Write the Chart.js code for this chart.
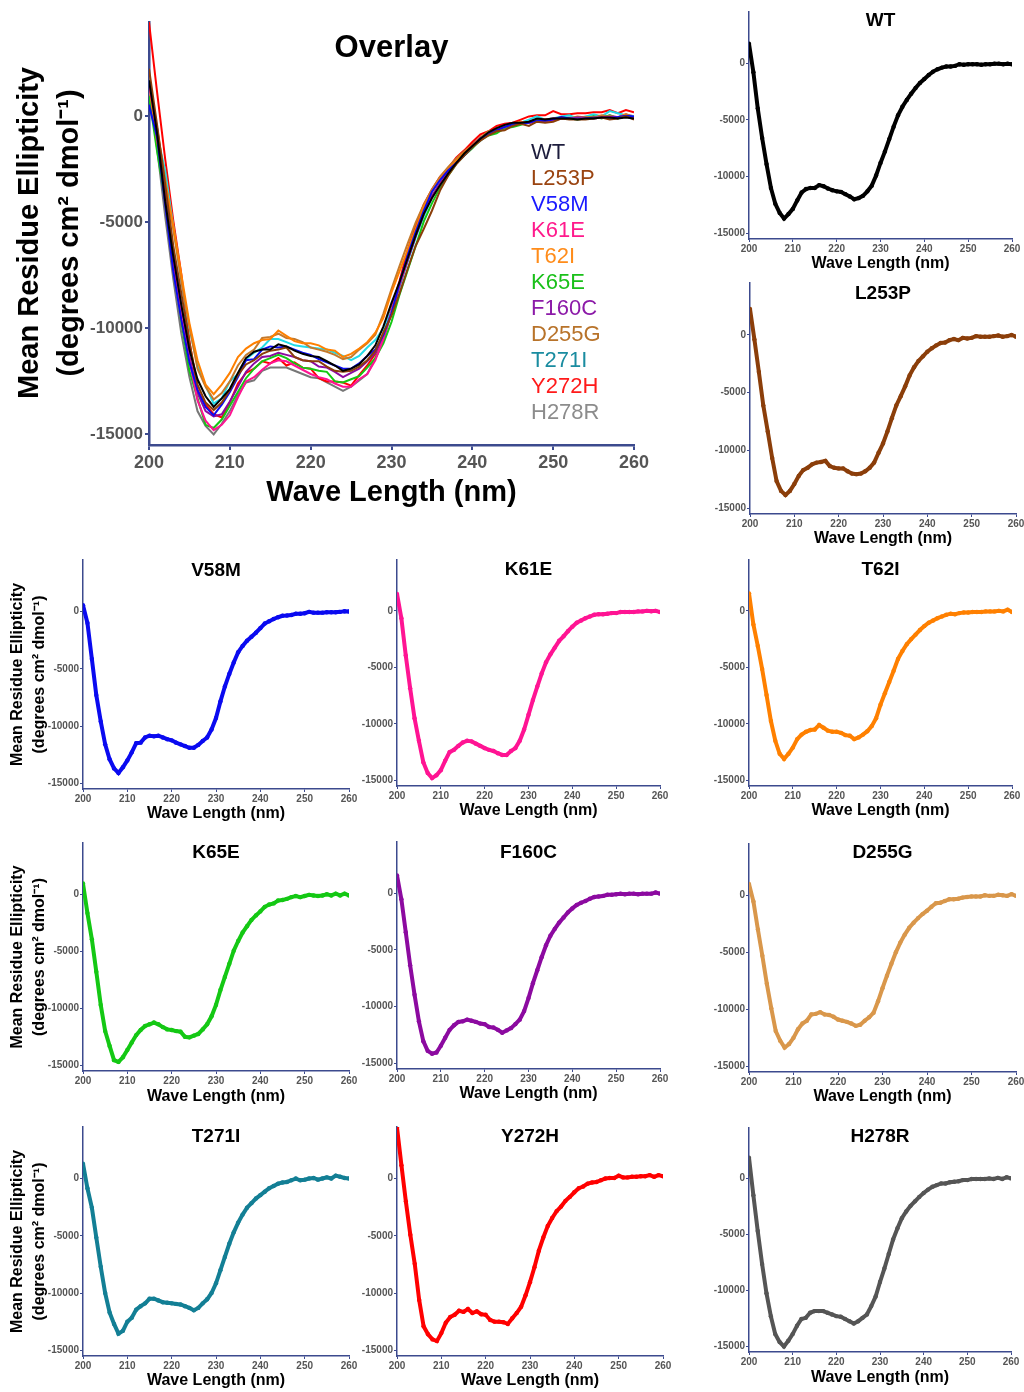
<!DOCTYPE html>
<html>
<head>
<meta charset="utf-8">
<title>CD spectra</title>
<script src="https://cdn.jsdelivr.net/npm/chart.js@4.4.0/dist/chart.umd.min.js"></script>
<style>
  html, body { margin: 0; padding: 0; background: #fff; width: 1024px; height: 1392px; overflow: hidden; }
  canvas { position: absolute; }
</style>
</head>
<body>
<script>
// --- data (mean residue ellipticity, deg cm2 dmol-1) ---
const wavelengths = [200, 201, 202, 203, 204, 205, 206, 207, 208, 209,
  210, 211, 212, 213, 214, 215, 216, 217, 218, 219,
  220, 221, 222, 223, 224, 225, 226, 227, 228, 229,
  230, 231, 232, 233, 234, 235, 236, 237, 238, 239,
  240, 241, 242, 243, 244, 245, 246, 247, 248, 249,
  250, 251, 252, 253, 254, 255, 256, 257, 258, 259, 260];

const xTicks = [200, 210, 220, 230, 240, 250, 260];
const yTicks = [0, -5000, -10000, -15000];

const seriesNames = ['WT', 'L253P', 'V58M', 'K61E', 'T62I', 'K65E', 'F160C', 'D255G', 'T271I', 'Y272H', 'H278R'];

const wt = [1700, -800, -4000, -6600, -8900, -11000, -12400, -13200, -13700, -13300,
  -12850, -12100, -11400, -11100, -11000, -11000, -10750, -10850, -11050, -11200,
  -11300, -11350, -11550, -11750, -12000, -11900, -11700, -11300, -10800, -9900,
  -8800, -7800, -6700, -5600, -4600, -3850, -3250, -2700, -2200, -1750,
  -1400, -1050, -750, -550, -400, -300, -300, -250, -100, -150,
  -100, -100, -100, -150, -100, -100, -50, -50, -100, -50, -100];

const l253p = [2250, -400, -3200, -6100, -8350, -10650, -12650, -13500, -13850, -13500,
  -12900, -12200, -11700, -11500, -11200, -11050, -11000, -10900, -11350, -11500,
  -11550, -11550, -11800, -12000, -12050, -12000, -11800, -11500, -11050, -10200,
  -9400, -8350, -7200, -6100, -5300, -4450, -3500, -2800, -2250, -1850,
  -1450, -1150, -900, -700, -650, -450, -350, -450, -250, -300,
  -250, -100, -150, -150, -150, -100, -50, -150, -100, 0, -150];

const v58m = [550, -1000, -4150, -7300, -9600, -11600, -12900, -13700, -14100, -13600,
  -13000, -12300, -11500, -11450, -11000, -10850, -10900, -10850, -11000, -11150,
  -11250, -11450, -11600, -11750, -11900, -11900, -11650, -11300, -11000, -10300,
  -9300, -7850, -6550, -5450, -4450, -3550, -3000, -2550, -2200, -1850,
  -1450, -1050, -850, -650, -500, -370, -350, -300, -200, -200,
  -150, -30, -100, -100, -100, -60, -60, -60, -30, 30, 0];

const k61e = [1500, -650, -3950, -6850, -9500, -11500, -13400, -14350, -14800, -14550,
  -14100, -13250, -12500, -12300, -11950, -11650, -11500, -11550, -11750, -11950,
  -12150, -12300, -12400, -12600, -12750, -12750, -12400, -12150, -11500, -10500,
  -9200, -7900, -6700, -5550, -4550, -3850, -3250, -2650, -2250, -1800,
  -1400, -1050, -850, -650, -500, -350, -300, -300, -250, -200,
  -200, -100, -100, -100, -100, -50, -50, 0, -30, 0, -100];

const t62i = [1550, -1200, -3100, -5150, -7450, -9750, -11500, -12650, -13100, -12650,
  -12100, -11350, -10950, -10700, -10550, -10500, -10100, -10350, -10600, -10700,
  -10700, -10800, -11000, -11050, -11350, -11200, -10950, -10650, -10200, -9500,
  -8300, -7300, -6300, -5300, -4250, -3550, -2950, -2500, -2100, -1700,
  -1350, -1050, -850, -650, -500, -350, -250, -300, -200, -150,
  -150, -100, -100, -100, -50, -50, -50, 0, -50, 100, -100];

const k65e = [950, -1650, -3950, -6800, -9700, -12000, -13300, -14550, -14700, -14300,
  -13650, -13000, -12350, -11900, -11550, -11400, -11250, -11400, -11650, -11850,
  -11900, -12000, -12050, -12500, -12550, -12400, -12250, -11850, -11400, -10700,
  -9700, -8400, -7250, -6100, -4950, -4100, -3350, -2800, -2250, -1850,
  -1500, -1100, -900, -800, -550, -500, -400, -250, -150, -250,
  -150, -50, -100, -150, -100, 0, -100, 50, -100, 50, -100];

const f160c = [1550, -550, -3450, -6350, -8950, -11300, -13050, -13900, -14150, -14050,
  -13450, -12750, -12050, -11650, -11350, -11300, -11150, -11250, -11350, -11500,
  -11550, -11800, -11850, -12050, -12300, -12100, -11900, -11550, -11150, -10400,
  -9250, -7950, -6800, -5650, -4600, -3750, -3150, -2600, -2150, -1700,
  -1350, -1050, -850, -700, -500, -350, -300, -250, -150, -150,
  -100, -50, -100, -50, -50, -100, -50, -50, -50, 50, -50];

const d255g = [1000, -550, -3000, -5300, -7750, -9900, -11900, -12750, -13350, -13050,
  -12500, -11750, -11250, -11000, -10450, -10400, -10250, -10450, -10500, -10650,
  -10900, -11000, -11100, -11250, -11450, -11350, -11000, -10700, -10300, -9300,
  -8150, -7050, -6000, -5000, -4150, -3450, -2850, -2400, -2000, -1650,
  -1350, -1000, -700, -650, -500, -350, -350, -300, -200, -150,
  -100, -100, -100, 0, -50, -50, 50, 0, -50, 100, -50];

const t271i = [1300, -850, -2550, -5150, -7700, -10000, -11700, -12700, -13550, -13300,
  -12500, -12150, -11450, -11150, -10900, -10500, -10500, -10650, -10800, -10850,
  -10900, -10950, -11000, -11150, -11300, -11500, -11300, -10900, -10550, -10000,
  -9150, -8000, -6850, -5700, -4700, -3850, -3150, -2550, -2150, -1750,
  -1450, -1150, -850, -650, -450, -350, -300, -150, 0, -150,
  -100, 0, 50, -100, 0, 100, 0, 250, 150, 50, 0];

const y272h = [4450, 1150, -2000, -4900, -7450, -10600, -12900, -13600, -14050, -14200,
  -13500, -12600, -12100, -11900, -11550, -11650, -11400, -11750, -11600, -11850,
  -11900, -12350, -12500, -12500, -12550, -12700, -12200, -11750, -11200, -10200,
  -9050, -7750, -6300, -5150, -4150, -3450, -2850, -2450, -1950, -1600,
  -1200, -850, -700, -450, -350, -300, -150, 0, 50, 50,
  250, 100, 100, 150, 150, 200, 200, 300, 150, 300, 200];

const h278r = [1850, -1500, -4700, -7650, -10250, -12300, -13900, -14600, -15000, -14500,
  -13900, -13150, -12550, -12450, -12000, -11850, -11850, -11850, -12000, -12150,
  -12300, -12350, -12550, -12750, -12950, -12750, -12450, -12150, -11400, -10550,
  -9250, -8050, -6750, -5450, -4450, -3550, -2950, -2450, -2050, -1650,
  -1300, -1000, -750, -600, -450, -450, -350, -300, -250, -150,
  -150, -50, -50, -50, -50, 0, -50, 50, -50, 100, 0];

const seriesValues = [wt, l253p, v58m, k61e, t62i, k65e, f160c, d255g, t271i, y272h, h278r];

// colours
const panelColors = ['#000000', '#8b3e0a', '#0a0af0', '#ff1493', '#ff8000', '#14c814', '#8c0aa0', '#d9974b', '#137f95', '#ff0000', '#555555'];
const overlayColors = ['#000000', '#8b3e0a', '#0a0af0', '#ff1493', '#ff8000', '#14c814', '#8c0aa0', '#c47a2c', '#22dbe8', '#ff0000', '#777777'];
const legendColors = ['#1c1c3c', '#9a4410', '#1a1aff', '#ff1a8c', '#ff8c1a', '#1ac01a', '#8c1aa8', '#b8732a', '#1a8ca0', '#ff1a1a', '#8c8c8c'];

const Y_MIN = -15500;
const Y_MAX = 4500;
const AXIS_COLOR = '#3c4a8e';

// where each panel sits on the page (pixel positions of 200 nm, 260 nm, 0 and -15000)
const panelLayout = [
  { title: 'Overlay', x200: 149, x260: 634, y0: 116, y15: 434, titleY: 48, xTitleY: 493, big: true, yTitle: true },
  { title: 'WT', series: 0, x200: 749, x260: 1012, y0: 60, y15: 233, titleY: 21, xTitleY: 264 },
  { title: 'L253P', series: 1, x200: 750, x260: 1016, y0: 332, y15: 508, titleY: 294, xTitleY: 539 },
  { title: 'V58M', series: 2, x200: 83, x260: 349, y0: 608, y15: 783, titleY: 571, xTitleY: 814, yTitle: true },
  { title: 'K61E', series: 3, x200: 397, x260: 660, y0: 608, y15: 780, titleY: 570, xTitleY: 811 },
  { title: 'T62I', series: 4, x200: 749, x260: 1012, y0: 608, y15: 780, titleY: 570, xTitleY: 811 },
  { title: 'K65E', series: 5, x200: 83, x260: 349, y0: 891, y15: 1065, titleY: 853, xTitleY: 1097, yTitle: true },
  { title: 'F160C', series: 6, x200: 397, x260: 660, y0: 890, y15: 1063, titleY: 853, xTitleY: 1094 },
  { title: 'D255G', series: 7, x200: 749, x260: 1016, y0: 892, y15: 1066, titleY: 853, xTitleY: 1097 },
  { title: 'T271I', series: 8, x200: 83, x260: 349, y0: 1175, y15: 1350, titleY: 1137, xTitleY: 1381, yTitle: true },
  { title: 'Y272H', series: 9, x200: 397, x260: 663, y0: 1175, y15: 1350, titleY: 1137, xTitleY: 1381 },
  { title: 'H278R', series: 10, x200: 749, x260: 1011, y0: 1175, y15: 1346, titleY: 1137, xTitleY: 1378 }
];

Chart.defaults.font.family = '"Liberation Sans", Arial, Helvetica, sans-serif';
Chart.defaults.animation = false;

const toPoints = vals => wavelengths.map((w, i) => ({ x: w, y: vals[i] }));

// panel titles and the overlay legend are drawn inside the plot area
const panelTextPlugin = {
  id: 'panelText',
  afterDraw(chart, args, opts) {
    const { ctx, chartArea } = chart;
    ctx.save();
    ctx.fillStyle = '#000';
    ctx.font = `bold ${opts.size}px "Liberation Sans", Arial, sans-serif`;
    ctx.textAlign = 'center';
    ctx.textBaseline = 'middle';
    ctx.fillText(opts.text, (chartArea.left + chartArea.right) / 2, opts.y);
    if (opts.legend) {
      const lg = opts.legend;
      ctx.font = `${lg.size}px "Liberation Sans", Arial, sans-serif`;
      ctx.textAlign = 'left';
      chart.data.datasets.forEach((ds, i) => {
        ctx.fillStyle = legendColors[i];
        ctx.fillText(ds.label, lg.x, lg.y + i * lg.step);
      });
    }
    ctx.restore();
  }
};

function makePanel(spec) {
  const big = !!spec.big;
  const k = (spec.y15 - spec.y0) / 15000;
  const axisTop = Math.round(spec.y0 - Y_MAX * k);
  const axisBottom = Math.round(spec.y15 + (-15000 - Y_MIN) * k);
  const xTitleSize = big ? 29 : 16;
  const xTitleLH = Math.round(xTitleSize * 1.25);
  const yAxisW = spec.yTitle ? spec.x200 : 52;
  const left = spec.x200 - yAxisW;
  const top = axisTop;
  const padRight = big ? 24 : 12;
  const width = spec.x260 + padRight - left;
  const height = Math.round(spec.xTitleY + xTitleLH / 2) - top;
  const xAxisH = top + height - axisBottom;

  const cv = document.createElement('canvas');
  cv.width = width;
  cv.height = height;
  cv.style.left = left + 'px';
  cv.style.top = top + 'px';
  cv.style.width = width + 'px';
  cv.style.height = height + 'px';
  document.body.appendChild(cv);

  let datasets;
  if (big) {
    datasets = seriesNames.map((name, i) => ({
      label: name,
      data: toPoints(seriesValues[i]),
      borderColor: overlayColors[i],
      backgroundColor: overlayColors[i],
      borderWidth: 2,
      pointRadius: 0,
      tension: 0
    }));
  } else {
    const i = spec.series;
    datasets = [{
      label: seriesNames[i],
      data: toPoints(seriesValues[i]),
      borderColor: panelColors[i],
      backgroundColor: panelColors[i],
      borderWidth: 4,
      pointRadius: 2.2,
      pointBorderWidth: 0,
      tension: 0
    }];
  }

  new Chart(cv, {
    type: 'line',
    data: { datasets },
    options: {
      responsive: false,
      maintainAspectRatio: false,
      layout: { padding: { left: 0, top: 0, right: padRight, bottom: 0 } },
      scales: {
        x: {
          type: 'linear',
          min: xTicks[0],
          max: xTicks[xTicks.length - 1],
          afterFit: s => { s.height = xAxisH; s.paddingLeft = 0; s.paddingRight = 0; },
          afterBuildTicks: s => { s.ticks = xTicks.map(v => ({ value: v })); },
          border: { display: true, color: AXIS_COLOR, width: big ? 2.5 : 1.5 },
          grid: { drawOnChartArea: false, color: AXIS_COLOR, tickLength: big ? 5 : 3, lineWidth: big ? 2 : 1 },
          ticks: {
            autoSkip: false, maxRotation: 0, padding: big ? 2 : 1, color: '#555',
            font: { size: big ? 18 : 10, weight: 'bold' },
            callback: v => String(v)
          },
          title: {
            display: true, text: 'Wave Length (nm)', color: '#000',
            font: { size: xTitleSize, weight: 'bold', lineHeight: 1.25 },
            padding: { top: 0, bottom: 0 }
          }
        },
        y: {
          type: 'linear',
          min: Y_MIN,
          max: Y_MAX,
          afterFit: s => { s.width = yAxisW; s.paddingTop = 0; s.paddingBottom = 0; },
          afterBuildTicks: s => { s.ticks = yTicks.map(v => ({ value: v })); },
          border: { display: true, color: AXIS_COLOR, width: big ? 2.5 : 1.5 },
          grid: { drawOnChartArea: false, color: AXIS_COLOR, tickLength: big ? 4 : 3, lineWidth: big ? 2 : 1 },
          ticks: {
            padding: big ? 2 : 1, color: '#555',
            font: { size: big ? 17 : 10, weight: 'bold' },
            callback: v => String(v)
          },
          title: {
            display: !!spec.yTitle,
            text: ['Mean Residue Ellipticity', '(degrees cm² dmol⁻¹)'],
            color: '#000',
            font: { size: big ? 29 : 16, weight: 'bold', lineHeight: big ? 1.38 : 1.375 },
            padding: { top: big ? 10 : 7, bottom: 0 }
          }
        }
      },
      plugins: {
        legend: { display: false },
        tooltip: { enabled: false },
        panelText: {
          text: spec.title,
          size: big ? 31 : 19,
          y: spec.titleY - top,
          legend: big ? { x: 531 - left, y: 153 - top, step: 26, size: 22 } : null
        }
      }
    },
    plugins: [panelTextPlugin]
  });
}

panelLayout.forEach(makePanel);
</script>
</body>
</html>
